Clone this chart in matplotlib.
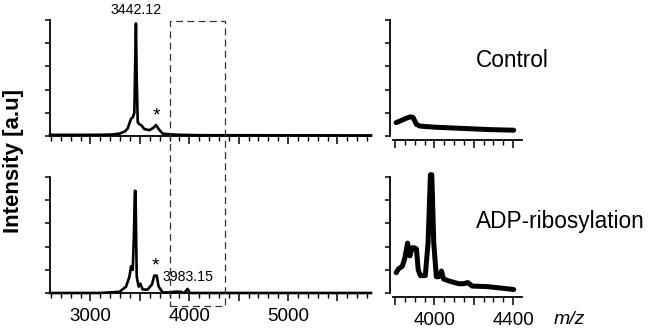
import numpy as np
import matplotlib
matplotlib.use("Agg")
import matplotlib.pyplot as plt
from matplotlib.ticker import MultipleLocator, FuncFormatter
from matplotlib.patches import Rectangle
from matplotlib.transforms import blended_transform_factory

plt.rcParams['font.family'] = ['Liberation Sans', 'DejaVu Sans']

# full-range spectra (m/z, relative intensity)
ctrl_mz = [2590, 3000, 3200, 3293, 3350, 3377, 3411, 3428, 3444, 3452, 3460, 3468,
           3478, 3495, 3512, 3545, 3596, 3636, 3663, 3690, 3731, 3798, 3900, 4100, 5840]
ctrl_int = [0.01, 0.01, 0.012, 0.02, 0.04, 0.066, 0.15, 0.16, 0.2, 0.6, 0.97, 0.5,
            0.12, 0.1, 0.095, 0.06, 0.05, 0.07, 0.095, 0.06, 0.02, 0.015, 0.01, 0.007, 0.005]

adp_mz = [2590, 3091, 3293, 3360, 3394, 3411, 3428, 3440, 3449, 3456, 3462, 3468,
          3488, 3505, 3529, 3579, 3623, 3646, 3670, 3690, 3731, 3800, 3869, 3916,
          3949, 3983, 4007, 4100, 5840]
adp_int = [0.0, 0.0, 0.01, 0.055, 0.14, 0.23, 0.2, 0.5, 0.88, 0.88, 0.5, 0.14,
           0.055, 0.08, 0.03, 0.03, 0.075, 0.15, 0.15, 0.055, 0.005, 0.005, 0.012, 0.01,
           0.0, 0.035, 0.0, 0.0, 0.0]

# zoomed windows 3800-4400
ctrl_zoom_mz = [3806, 3827, 3853, 3878, 3892, 3909, 3929, 4013, 4149, 4284, 4403]
ctrl_zoom_int = [0.115, 0.13, 0.15, 0.165, 0.16, 0.10, 0.085, 0.075, 0.065, 0.055, 0.05]

adp_zoom_mz = [3806, 3819, 3837, 3850, 3864, 3876, 3887, 3899, 3909, 3918, 3929, 3954,
               3968, 3980, 3987, 3997, 4010, 4023, 4036, 4047, 4081, 4124, 4149, 4170,
               4192, 4268, 4352, 4403]
adp_zoom_int = [0.175, 0.21, 0.23, 0.30, 0.43, 0.32, 0.39, 0.39, 0.38, 0.20, 0.15, 0.15,
                0.43, 1.02, 1.02, 0.43, 0.14, 0.14, 0.19, 0.12, 0.10, 0.08, 0.08, 0.09,
                0.06, 0.055, 0.04, 0.03]

W, H = 652, 330
fig = plt.figure(figsize=(W / 100, H / 100), dpi=100)


def px_ax(x0, y0, x1, y1):
    # axes from pixel box (y from top)
    return fig.add_axes([x0 / W, 1 - y1 / H, (x1 - x0) / W, (y1 - y0) / H])


def style(ax, major, minor, labels):
    for s in ['top', 'right']:
        ax.spines[s].set_visible(False)
    for s in ['left', 'bottom']:
        ax.spines[s].set_linewidth(1.3)
    ax.set_ylim(0, 1)
    ax.yaxis.set_major_locator(MultipleLocator(0.2))
    ax.yaxis.set_major_formatter(FuncFormatter(lambda v, p: ''))
    ax.xaxis.set_major_locator(MultipleLocator(major))
    ax.xaxis.set_minor_locator(MultipleLocator(minor))
    ax.xaxis.set_major_formatter(FuncFormatter(
        lambda v, p: ('%d' % v) if (labels and int(round(v)) in labels) else ''))
    ax.tick_params(axis='y', length=3.8, width=1.1, direction='out')
    ax.tick_params(axis='x', which='major', length=6, width=1.1, direction='out',
                   labelsize=13.5, pad=5)
    ax.tick_params(axis='x', which='minor', length=3.5, width=1.0, direction='out')
    ax.patch.set_visible(False)


ax_tl = px_ax(50, 20, 371, 136)
ax_bl = px_ax(50, 177, 371, 293)
ax_tr = px_ax(393, 20, 522, 136)
ax_br = px_ax(393, 177, 522, 293)

for ax in (ax_tl, ax_bl):
    ax.set_xlim(2590, 5840)
    style(ax, 500, 100, [3000, 4000, 5000] if ax is ax_bl else None)

for ax in (ax_tr, ax_br):
    ax.set_xlim(3790, 4445)
    style(ax, 200, 50, [4000, 4400] if ax is ax_br else None)
    ax.spines['left'].set_position(('outward', 2))
    ax.spines['bottom'].set_position(('outward', 3))

ax_tl.plot(ctrl_mz, ctrl_int, color='black', lw=1.9, clip_on=False, solid_joinstyle='round')
ax_bl.plot(adp_mz, adp_int, color='black', lw=1.9, clip_on=False, solid_joinstyle='round')
ax_tr.plot(ctrl_zoom_mz, ctrl_zoom_int, color='black', lw=3.6, clip_on=False,
           solid_joinstyle='round', solid_capstyle='round')
ax_br.plot(adp_zoom_mz, adp_zoom_int, color='black', lw=3.6, clip_on=False,
           solid_joinstyle='round', solid_capstyle='round')

# dashed zoom window across both left panels
tr = blended_transform_factory(ax_bl.transData, fig.transFigure)
box = Rectangle((3800, 1 - 306 / H), 560, (306 - 21) / H, transform=tr,
                fill=False, ls=(0, (5.5, 3.5)), lw=0.9, ec='#333333', clip_on=False)
fig.add_artist(box)

# annotations
ax_tl.text(3460, 1.0 + 3 / 116, '3442.12', ha='center', va='bottom', fontsize=10.2)
ax_tl.text(3667, 0.095 + 1 / 116, '*', ha='center', va='bottom', fontsize=14)
ax_bl.text(3662, 0.15 + 1 / 116, '*', ha='center', va='bottom', fontsize=14)
ax_bl.text(3983, 0.035 + 8 / 116, '3983.15', ha='center', va='baseline', fontsize=10.2)

fig.text(512 / W, 1 - 67 / H, 'Control', ha='center', va='baseline', fontsize=16.3)
fig.text(560 / W, 1 - 228 / H, 'ADP-ribosylation', ha='center', va='baseline', fontsize=16.3)
fig.text(569 / W, 1 - 324 / H, 'm/z', ha='center', va='baseline', fontsize=14, style='italic')
fig.text(14 / W, 1 - 161 / H, 'Intensity [a.u]', ha='center', va='center', rotation=90,
         fontsize=16, fontweight='bold')

fig.savefig('out.png', dpi=100)
